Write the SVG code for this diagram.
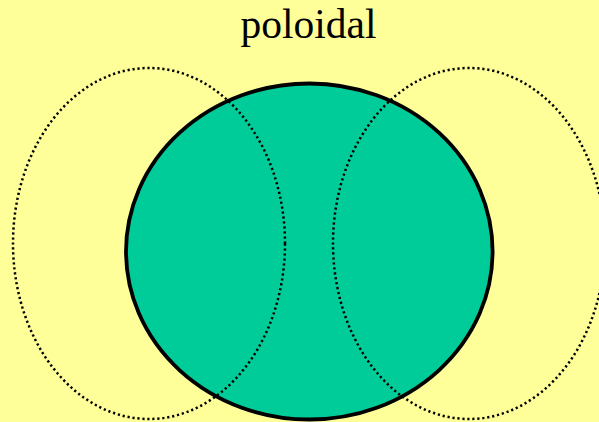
<svg xmlns="http://www.w3.org/2000/svg" width="599" height="422" viewBox="0 0 599 422">
  <style>
    .title { font-family: "Liberation Serif", "Times New Roman", serif; font-size: 41.5px; fill: #000000; }
    .core { fill: #00CC99; stroke: #000000; stroke-width: 3.8; }
    .loop { fill: none; stroke: #000000; stroke-width: 2.5; stroke-dasharray: 2.2 2.8; }
  </style>
  <rect x="0" y="0" width="599" height="422" fill="#FFFF99"/>
  <text class="title" x="308.5" y="37.5" text-anchor="middle">poloidal</text>
  <g id="core">
    <ellipse class="core" cx="309.3" cy="251.5" rx="183.3" ry="168"/>
  </g>
  <g id="connectors">
    <ellipse id="loop-left" class="loop" cx="149" cy="243.5" rx="136" ry="175.5"/>
    <ellipse id="loop-right" class="loop" cx="469" cy="243.5" rx="136" ry="175.5"/>
  </g>
</svg>
